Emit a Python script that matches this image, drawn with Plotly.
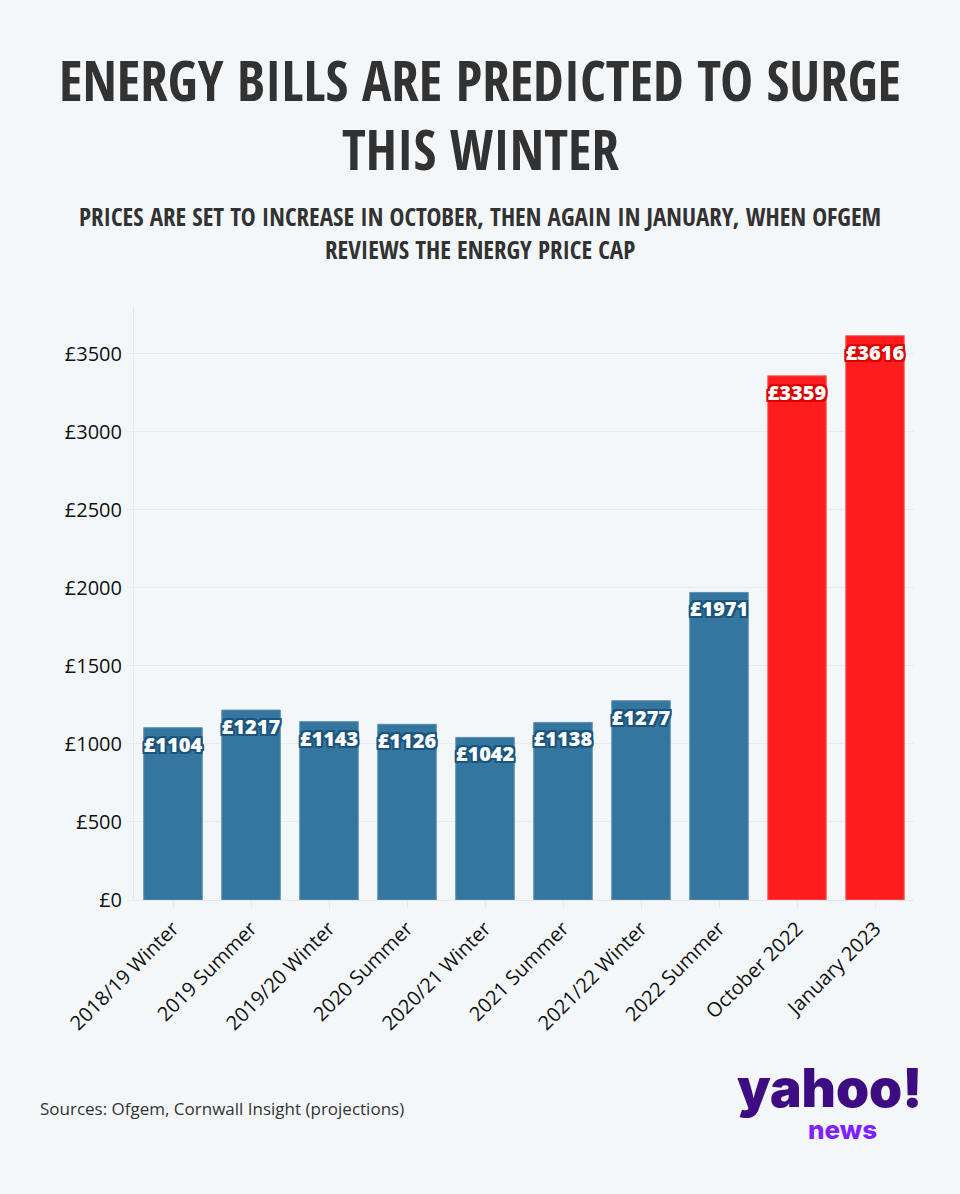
import plotly.graph_objects as go

hist_categories = ["2018/19 Winter", "2019 Summer", "2019/20 Winter", "2020 Summer",
                   "2020/21 Winter", "2021 Summer", "2021/22 Winter", "2022 Summer"]
hist_values = [1104, 1217, 1143, 1126, 1042, 1138, 1277, 1971]
proj_categories = ["October 2022", "January 2023"]
proj_values = [3359, 3616]
all_categories = hist_categories + proj_categories
y_ticks = [0, 500, 1000, 1500, 2000, 2500, 3000, 3500]
y_tick_labels = ["£0", "£500", "£1000", "£1500", "£2000", "£2500", "£3000", "£3500"]

W, H = 960, 1194
ML, MR, MT, MB = 134, 46, 306, 294
PW, PH = W - ML - MR, H - MT - MB

def px(x):
    return (x - ML) / PW

def py(y):
    return (H - MB - y) / PH

BLUE = "#35769f"
BLUE_DARK = "#1a5580"
RED = "#ff1c1c"
RED_DARK = "#dd0000"
BG = "#f4f7fa"

def outline(c):
    return ", ".join(f"{a}px {b}px 0px {c}" for a, b in
                     [(1, 1), (-1, -1), (1, -1), (-1, 1), (0, 2), (2, 0), (0, -2), (-2, 0),
                      (2, 2), (-2, 2), (2, -2), (-2, -2)])

fig = go.Figure()
fig.add_trace(go.Bar(
    x=hist_categories, y=hist_values, marker=dict(color=BLUE, line=dict(color="#5b8fb3", width=1)),
    text=[f"£{v}" for v in hist_values], texttemplate="%{text}",
    textposition="inside", insidetextanchor="end", constraintext="none", textangle=0,
    textfont=dict(family="Open Sans", size=20, color="white", weight=800, shadow=outline(BLUE_DARK)),
    showlegend=False, hoverinfo="x+y",
))
fig.add_trace(go.Bar(
    x=proj_categories, y=proj_values, marker=dict(color=RED, line=dict(color="#ff6060", width=1)),
    text=[f"£{v}" for v in proj_values], texttemplate="%{text}",
    textposition="inside", insidetextanchor="end", constraintext="none", textangle=0,
    textfont=dict(family="Open Sans", size=20, color="white", weight=800, shadow=outline(RED_DARK)),
    showlegend=False, hoverinfo="x+y",
))

title_font = ("Noto Sans ExtraCondensed, Noto Sans Condensed, Open Sans Condensed, "
              "Liberation Sans Narrow, DejaVu Sans Condensed, sans-serif")
annos = [
    dict(text="ENERGY BILLS ARE PREDICTED TO SURGE", x=px(480), y=py(79),
         font=dict(family=title_font, size=55, color="#323232", weight="bold")),
    dict(text="THIS WINTER", x=px(480), y=py(148),
         font=dict(family=title_font, size=55, color="#323232", weight="bold")),
    dict(text="PRICES ARE SET TO INCREASE IN OCTOBER, THEN AGAIN IN JANUARY, WHEN OFGEM", x=px(480), y=py(216),
         font=dict(family=title_font, size=25, color="#323232", weight=500)),
    dict(text="REVIEWS THE ENERGY PRICE CAP", x=px(480), y=py(249),
         font=dict(family=title_font, size=25, color="#323232", weight=500)),
    dict(text="Sources: Ofgem, Cornwall Insight (projections)", x=px(38), y=py(1108), xanchor="left",
         font=dict(family="Open Sans", size=17, color="#333333")),
    dict(text="yahoo!", x=px(829), y=py(1088),
         font=dict(family="Inter", size=53, color="#3d0b82", weight=900)),
    dict(text="news", x=px(842), y=py(1129),
         font=dict(family="Inter", size=26, color="#7e22ff", weight=800)),
]
for a in annos:
    a.setdefault("xanchor", "center")
    a.update(xref="paper", yref="paper", yanchor="middle", showarrow=False)

fig.update_layout(
    width=W, height=H,
    margin=dict(l=ML, r=MR, t=MT, b=MB, autoexpand=False),
    paper_bgcolor=BG, plot_bgcolor=BG,
    barmode="overlay", bargap=0.25,
    annotations=annos,
    xaxis=dict(categoryorder="array", categoryarray=all_categories, tickangle=-45,
               tickfont=dict(family="Open Sans", size=20, color="#111111"),
               ticks="outside", ticklen=8, tickcolor="#e6e8eb", showgrid=False,
               showline=False, zeroline=False),
    yaxis=dict(tickmode="array", tickvals=y_ticks, ticktext=y_tick_labels,
               tickfont=dict(family="Open Sans", size=20, color="#111111"),
               ticks="outside", ticklen=7, tickcolor="#e9ebee",
               showgrid=True, gridcolor="#e9ebee", gridwidth=1,
               showline=True, linecolor="#e6e8eb", linewidth=1,
               zeroline=True, zerolinecolor="#e6e8eb", zerolinewidth=1),
)
fig.write_html("out.html")
